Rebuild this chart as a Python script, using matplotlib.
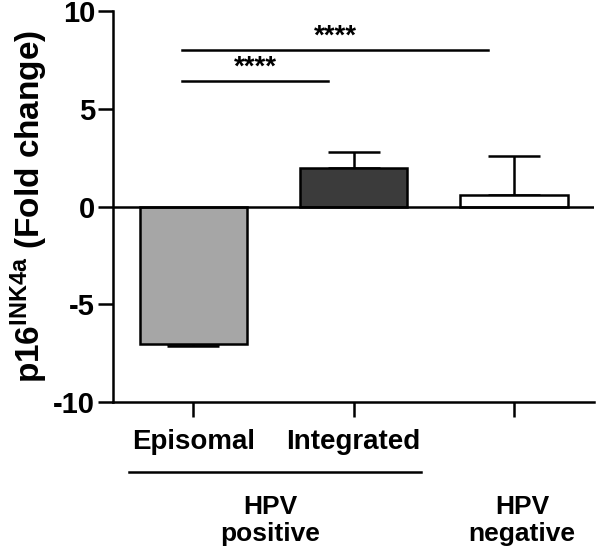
import numpy as np
import matplotlib.pyplot as plt
import matplotlib.transforms as mtransforms

plt.rcParams['font.family'] = 'Liberation Sans'
plt.rcParams['font.weight'] = 'bold'
plt.rcParams['axes.labelweight'] = 'bold'
plt.rcParams['mathtext.fontset'] = 'custom'
plt.rcParams['mathtext.bf'] = 'Liberation Sans:bold'
plt.rcParams['mathtext.rm'] = 'Liberation Sans:bold'
plt.rcParams['mathtext.default'] = 'bf'

categories = ['Episomal', 'Integrated', '']
values = [-7.0, 2.0, 0.6]
errors = [0.1, 0.8, 2.0]
colors = ['#a6a6a6', '#3b3b3b', '#ffffff']
groups = ['HPV\npositive', 'HPV\nnegative']
sig_pairs = [(0, 1, 6.4), (0, 2, 8.0)]
sig_text = '****'

fig = plt.figure(figsize=(5.96, 5.51), dpi=100)
ax = fig.add_axes([0.19, 0.27, 0.807, 0.71])

x = np.arange(len(values))
ax.bar(x, values, 0.67, color=colors, edgecolor='black', linewidth=1.8, zorder=3)
# one sided error bars
lower = [e if v < 0 else 0 for v, e in zip(values, errors)]
upper = [e if v >= 0 else 0 for v, e in zip(values, errors)]
ax.errorbar(x, values, yerr=[lower, upper], fmt='none', ecolor='black',
            elinewidth=1.8, capsize=18.7, capthick=1.8, zorder=2)
ax.axhline(0, color='black', linewidth=1.8, zorder=4)

# significance bars
for a, b, h in sig_pairs:
    ax.plot([a - 0.07, b - 0.16], [h, h], color='black', linewidth=1.8)
    ax.text((a - 0.07 + b - 0.16) / 2, h + 0.05, sig_text, ha='center', va='bottom',
            fontsize=20)

ax.set_xlim(-0.5, 2.5)
ax.set_ylim(-10, 10)
ax.set_yticks([-10, -5, 0, 5, 10])
ax.set_yticklabels(['-10', '-5', '0', '5', '10'], fontsize=21)
ax.set_xticks(x)
ax.set_xticklabels(categories, fontsize=20)
ax.tick_params(axis='both', width=1.8, length=11, direction='out')
ax.tick_params(axis='x', pad=8)
ax.tick_params(axis='y', pad=2)
for s in ['top', 'right']:
    ax.spines[s].set_visible(False)
for s in ['left', 'bottom']:
    ax.spines[s].set_linewidth(1.8)

ax.set_ylabel(r'p16$^{INK4a}$ (Fold change)', fontsize=24, labelpad=2)

# group labels below
trans = mtransforms.blended_transform_factory(ax.transData, fig.transFigure)
ax.plot([-0.4, 1.42], [0.143, 0.143], color='black', linewidth=1.8,
        transform=trans, clip_on=False)
ax.text(0.48, 0.056, groups[0], ha='center', va='center', fontsize=19,
        transform=trans, linespacing=1.15)
ax.text(2.05, 0.056, groups[1], ha='center', va='center', fontsize=19,
        transform=trans, linespacing=1.15)

fig.savefig('out.png', dpi=100)
